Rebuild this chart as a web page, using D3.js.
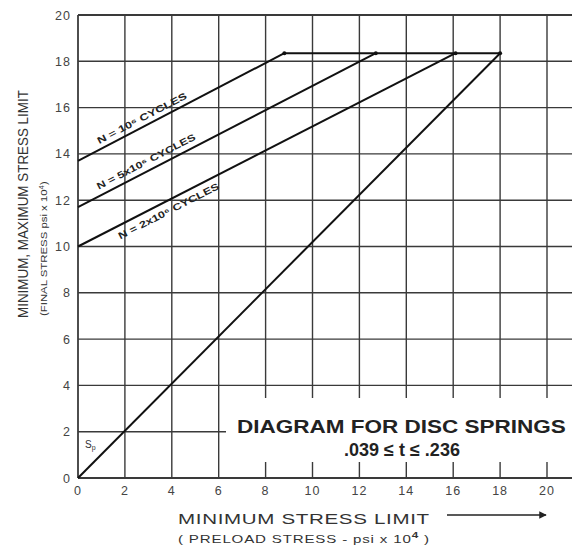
<!DOCTYPE html>
<html>
<head>
<meta charset="utf-8">
<script src="https://cdn.jsdelivr.net/npm/d3@7"></script>
<style>
  body { margin: 0; background: #fff; }
  svg { display: block; font-family: "Liberation Sans", Arial, sans-serif; }
</style>
</head>
<body>
<div id="chart"></div>
<script>
// Goodman-style fatigue diagram for disc springs

const xTicks = [0, 2, 4, 6, 8, 10, 12, 14, 16, 18, 20];
const yTicks = [0, 2, 4, 6, 8, 10, 12, 14, 16, 18, 20];

// plateau (max stress limit) value
const plateauY = 18.35;

const cycleLabels = ["N = 10\u2076 CYCLES", "N = 5x10\u2076 CYCLES", "N = 2x10\u2076 CYCLES"];
const cycleStartY = [13.7, 11.7, 10.0];   // stress at zero preload
const cycleEndX = [8.8, 12.7, 16.1];      // preload where line meets plateau

// 45 degree line, preload = final stress
const diagX = [0, 18];
const diagY = [0, plateauY];

const CONFIG = {
  width: 574,
  height: 546,
  left: 78,
  right: 547,
  top: 15,
  bottom: 478,
  gridEnd: 572
};

const svg = d3.select('#chart')
  .append('svg')
  .attr('width', CONFIG.width)
  .attr('height', CONFIG.height);

const x = d3.scaleLinear().domain([0, 20]).range([CONFIG.left, CONFIG.right]);
const y = d3.scaleLinear().domain([0, 20]).range([CONFIG.bottom, CONFIG.top]);

// squeeze a text node so it spans exactly `len` pixels
function fitText(sel, len) {
  const w = sel.node().getComputedTextLength();
  return len / w;
}

// grid
const grid = svg.append('g').attr('stroke', '#3a3a3a').attr('stroke-width', 1.4);
grid.selectAll('.hline')
  .data(yTicks)
  .enter()
  .append('line')
  .attr('x1', x(0))
  .attr('x2', CONFIG.gridEnd)
  .attr('y1', d => y(d))
  .attr('y2', d => y(d))
  .attr('stroke-width', d => (d === 0 || d === 20) ? 1.8 : 1.4);
grid.selectAll('.vline')
  .data(xTicks)
  .enter()
  .append('line')
  .attr('x1', d => x(d))
  .attr('x2', d => x(d))
  .attr('y1', y(20))
  .attr('y2', y(0))
  .attr('stroke-width', d => d === 0 ? 1.8 : 1.4);

// tick labels
svg.append('g')
  .selectAll('text')
  .data(yTicks)
  .enter()
  .append('text')
  .attr('x', 71)
  .attr('y', d => y(d) + 4.5)
  .attr('text-anchor', 'end')
  .attr('font-size', 12.5)
  .attr('letter-spacing', 1)
  .attr('fill', '#444')
  .text(d => d);

svg.append('g')
  .selectAll('text')
  .data(xTicks)
  .enter()
  .append('text')
  .attr('x', d => x(d))
  .attr('y', 495)
  .attr('text-anchor', 'middle')
  .attr('font-size', 12.5)
  .attr('letter-spacing', 1)
  .attr('fill', '#444')
  .text(d => d);

// white box behind the diagram title
svg.append('rect')
  .attr('x', 226)
  .attr('y', 398)
  .attr('width', 348)
  .attr('height', 64)
  .attr('fill', '#fff');

// cycle lines
const lines = svg.append('g')
  .attr('stroke', '#111')
  .attr('stroke-width', 2)
  .attr('fill', 'none');

cycleLabels.forEach((label, i) => {
  lines.append('line')
    .attr('x1', x(0))
    .attr('y1', y(cycleStartY[i]))
    .attr('x2', x(cycleEndX[i]))
    .attr('y2', y(plateauY));
});

// diagonal
lines.append('line')
  .attr('x1', x(diagX[0]))
  .attr('y1', y(diagY[0]))
  .attr('x2', x(diagX[1]))
  .attr('y2', y(diagY[1]));

// plateau
lines.append('line')
  .attr('x1', x(cycleEndX[0]))
  .attr('y1', y(plateauY))
  .attr('x2', x(diagX[1]))
  .attr('y2', y(plateauY));

// little dots where lines join the plateau
svg.append('g')
  .selectAll('circle')
  .data(cycleEndX.concat([diagX[1]]))
  .enter()
  .append('circle')
  .attr('cx', d => x(d))
  .attr('cy', y(plateauY))
  .attr('r', 2)
  .attr('fill', '#111');

// labels along the cycle lines
const labelAt = [1.0, 1.0, 1.55];
const labelOffset = [-5, -6, 13];
const labelLen = [100, 110, 112];
cycleLabels.forEach((label, i) => {
  const x0 = labelAt[i];
  const y0 = cycleStartY[i] + x0 * (plateauY - cycleStartY[i]) / cycleEndX[i];
  const px = x(x0);
  const py = y(y0);
  const ang = Math.atan2(y(plateauY) - y(cycleStartY[i]), x(cycleEndX[i]) - x(0)) * 180 / Math.PI;
  const t = svg.append('text')
    .attr('font-size', 9.5)
    .attr('font-weight', 'bold')
    .attr('fill', '#222')
    .text(label);
  const s = fitText(t, labelLen[i]);
  t.attr('transform', `translate(${px},${py}) rotate(${ang}) translate(0,${labelOffset[i]}) scale(${s},1)`);
});

// Sp label
svg.append('text')
  .attr('x', 85)
  .attr('y', 448)
  .attr('font-size', 10)
  .attr('fill', '#333')
  .text('S')
  .append('tspan')
  .attr('font-size', 7)
  .attr('dy', 2)
  .text('p');

// diagram title
const dTitle = svg.append('text')
  .attr('font-size', 18.5)
  .attr('font-weight', 'bold')
  .attr('fill', '#222')
  .text('DIAGRAM FOR DISC SPRINGS');
dTitle.attr('transform', `translate(237,433) scale(${fitText(dTitle, 329)},1)`);

svg.append('text')
  .attr('x', 402)
  .attr('y', 456)
  .attr('text-anchor', 'middle')
  .attr('font-size', 18)
  .attr('font-weight', 'bold')
  .attr('fill', '#222')
  .text('.039 \u2264 t \u2264 .236');

// y axis titles
const yTitle = svg.append('text')
  .attr('font-size', 15)
  .attr('fill', '#333')
  .text('MINIMUM, MAXIMUM STRESS LIMIT');
yTitle.attr('transform', `translate(28,318) rotate(-90) scale(${fitText(yTitle, 228)},1)`);

const ySub = svg.append('text')
  .attr('font-size', 9.5)
  .attr('fill', '#333');
ySub.append('tspan').text('(FINAL STRESS psi x 10');
ySub.append('tspan').attr('font-size', 6.5).attr('dy', -3).text('4');
ySub.append('tspan').attr('dy', 3).text(')');
ySub.attr('transform', `translate(47,316) rotate(-90) scale(${fitText(ySub, 135)},1)`);

// x axis titles
const xTitle = svg.append('text')
  .attr('font-size', 15.5)
  .attr('fill', '#333')
  .attr('letter-spacing', 0.5)
  .text('MINIMUM  STRESS LIMIT');
xTitle.attr('transform', `translate(178,524) scale(${fitText(xTitle, 252)},1)`);

const xSub = svg.append('text')
  .attr('font-size', 11)
  .attr('fill', '#333')
  .attr('letter-spacing', 0.6);
xSub.append('tspan').text('( PRELOAD STRESS   - psi  x 10');
xSub.append('tspan').attr('font-size', 8.5).attr('dy', -5).attr('font-weight', 'bold').text('4');
xSub.append('tspan').attr('dy', 5).text(' )');
xSub.attr('transform', `translate(178,543) scale(${fitText(xSub, 252)},1)`);

// arrow
svg.append('defs')
  .append('marker')
  .attr('id', 'arrow')
  .attr('viewBox', '0 0 10 10')
  .attr('refX', 9)
  .attr('refY', 5)
  .attr('markerWidth', 8)
  .attr('markerHeight', 5)
  .attr('orient', 'auto')
  .append('path')
  .attr('d', 'M0,0 L10,5 L0,10 z')
  .attr('fill', '#222');

svg.append('line')
  .attr('x1', 447)
  .attr('x2', 546)
  .attr('y1', 515)
  .attr('y2', 515)
  .attr('stroke', '#222')
  .attr('stroke-width', 1.5)
  .attr('marker-end', 'url(#arrow)');
</script>
</body>
</html>
